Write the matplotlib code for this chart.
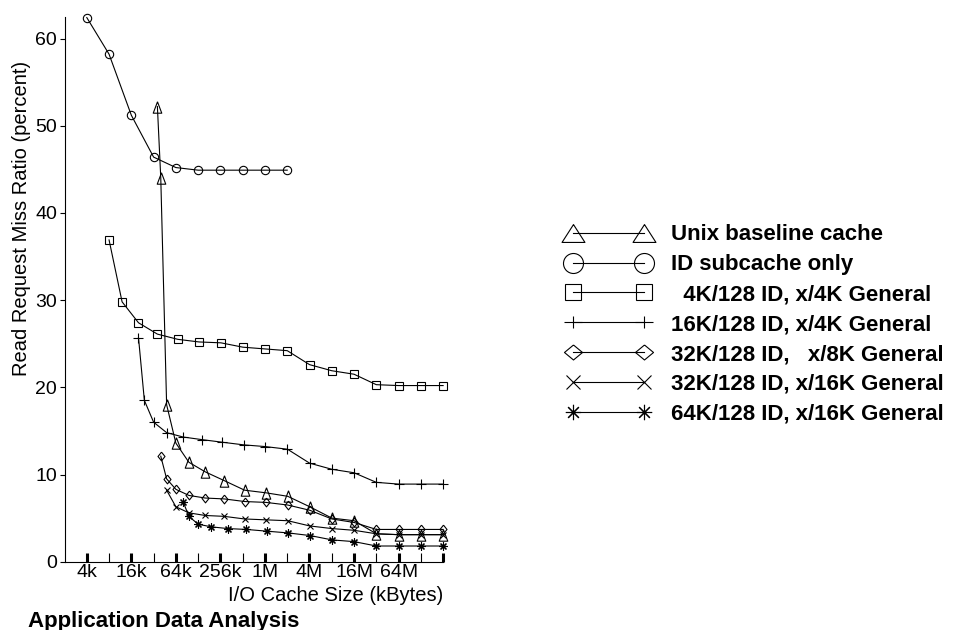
import matplotlib
matplotlib.use('Agg')
import matplotlib.pyplot as plt
from matplotlib.lines import Line2D
from matplotlib.path import Path

plt.rcParams['font.family'] = ['Liberation Sans', 'DejaVu Sans']

# general cache sizes (K), the ID subcache size is added to get the total
general_k = [4, 8, 16, 32, 64, 128, 256, 512, 1024, 2048, 4096, 8192,
             16384, 32768, 65536, 131072, 262144]
id_only_k = [4, 8, 16, 32, 64, 128, 256, 512, 1024, 2048]

unix_x = [32 + g for g in general_k]
unix_y = [52.2, 44.0, 18.0, 13.6, 11.4, 10.3, 9.3, 8.2, 7.9, 7.5,
          6.3, 5.0, 4.7, 3.2, 3.1, 3.1, 3.1]

id_only_y = [62.4, 58.2, 51.2, 46.4, 45.2, 44.9, 44.9, 44.9, 44.9, 44.9]

id4_x = [4 + g for g in general_k]
id4_y = [36.9, 29.8, 27.4, 26.1, 25.5, 25.2, 25.1, 24.6, 24.4, 24.2,
         22.6, 21.9, 21.5, 20.3, 20.2, 20.2, 20.2]

id16_x = [16 + g for g in general_k]
id16_y = [25.7, 18.5, 16.0, 14.8, 14.3, 14.0, 13.7, 13.4, 13.2, 12.9,
          11.3, 10.6, 10.2, 9.1, 8.9, 8.9, 8.9]

id32_8_x = [32 + g for g in general_k[1:]]
id32_8_y = [12.1, 9.5, 8.3, 7.6, 7.3, 7.2, 6.9, 6.8, 6.5, 5.9,
            4.9, 4.5, 3.7, 3.7, 3.7, 3.7]

id32_16_x = [32 + g for g in general_k[2:]]
id32_16_y = [8.2, 6.3, 5.6, 5.3, 5.2, 4.9, 4.8, 4.7, 4.1, 3.8,
             3.6, 3.2, 3.1, 3.1, 3.1]

id64_16_x = [64 + g for g in general_k[2:]]
id64_16_y = [6.9, 5.2, 4.3, 4.0, 3.8, 3.7, 3.5, 3.3, 3.0, 2.5,
             2.3, 1.8, 1.8, 1.8, 1.8]

tick_pos = [4, 16, 64, 256, 1024, 4096, 16384, 65536, 262144]
tick_labels = ['4k', '16k', '64k', '256k', '1M', '4M', '16M', '64M', '']
minor_pos = [8, 32, 128, 512, 2048, 8192, 32768, 131072]

labels = ['Unix baseline cache',
          'ID subcache only',
          '  4K/128 ID, x/4K General',
          '16K/128 ID, x/4K General',
          '32K/128 ID,   x/8K General',
          '32K/128 ID, x/16K General',
          '64K/128 ID, x/16K General']

# marker shapes
tall_tri = [(0, 1), (-0.75, -1), (0.75, -1), (0, 1)]
wide_tri = [(0, 0.78), (-1, -0.78), (1, -0.78), (0, 0.78)]
tall_dia = [(0, 1), (0.8, 0), (0, -1), (-0.8, 0), (0, 1)]
wide_dia = [(0, 0.83), (1, 0), (0, -0.83), (-1, 0), (0, 0.83)]
flat_plus = Path([(-1, 0), (1, 0), (0, -0.67), (0, 0.67)],
                 [Path.MOVETO, Path.LINETO, Path.MOVETO, Path.LINETO])
aster = (8, 2, 0)

fig = plt.figure(figsize=(9.75, 6.3), dpi=100)
ax = fig.add_axes([65 / 975, 1 - 561.7 / 630, 378.2 / 975, 545 / 630])

kw = dict(color='k', lw=0.8, mfc='none', mew=0.8, clip_on=False)
ax.plot(unix_x, unix_y, marker=tall_tri, ms=8.2, **kw)
ax.plot(id_only_k, id_only_y, marker='o', ms=6, **kw)
ax.plot(id4_x, id4_y, marker='s', ms=5.4, **kw)
ax.plot(id16_x, id16_y, marker='+', ms=6.5, **kw)
ax.plot(id32_8_x, id32_8_y, marker=tall_dia, ms=6.3, **kw)
ax.plot(id32_16_x, id32_16_y, marker='x', ms=4.6, **kw)
ax.plot(id64_16_x, id64_16_y, marker=aster, ms=5.8, **kw)

ax.set_xscale('log', base=2)
ax.set_xlim(2.03, 262144 * 1.003)
ax.set_ylim(0, 62.5)
ax.set_xticks(tick_pos)
ax.set_xticklabels(tick_labels)
ax.set_xticks(minor_pos, minor=True)
ax.set_xticklabels([''] * len(minor_pos), minor=True)
ax.set_yticks([0, 10, 20, 30, 40, 50, 60])

ax.spines['top'].set_visible(False)
ax.spines['right'].set_visible(False)
ax.spines['left'].set_linewidth(0.8)
ax.spines['bottom'].set_linewidth(0.8)

ax.tick_params(axis='x', which='major', direction='in', length=6.5, width=2.2,
               labelsize=14, pad=2)
ax.tick_params(axis='x', which='minor', direction='in', length=6.5, width=0.8)
ax.tick_params(axis='y', direction='out', length=3.6, width=0.8,
               labelsize=14, pad=2)

ax.set_xlabel('I/O Cache Size (kBytes)', fontsize=14.5, loc='right', labelpad=3)
ax.set_ylabel('Read Request Miss Ratio (percent)', fontsize=14.5)
ax.yaxis.set_label_coords(-0.09, 0.629)

fig.text(28 / 975, 0.0055, 'Application Data Analysis', fontsize=16,
         fontweight='bold', va='baseline', ha='left')

# legend with its own (bigger) markers
leg_kw = dict(color='k', lw=0.8, mfc='none', mew=0.8)
handles = [Line2D([], [], marker=wide_tri, ms=16.5, **leg_kw),
           Line2D([], [], marker='o', ms=14.4, **leg_kw),
           Line2D([], [], marker='s', ms=12, **leg_kw),
           Line2D([], [], marker=flat_plus, ms=13, **leg_kw),
           Line2D([], [], marker=wide_dia, ms=13, **leg_kw),
           Line2D([], [], marker='x', ms=9.5, **leg_kw),
           Line2D([], [], marker=aster, ms=11, **leg_kw)]
fig.legend(handles, labels, loc='upper left', bbox_to_anchor=(566.6 / 975, 0.6437),
           frameon=False, numpoints=2, handlelength=3.79, handletextpad=0.9,
           labelspacing=0.40, borderpad=0, borderaxespad=0,
           prop={'size': 16, 'weight': 'bold'})

fig.savefig('out.png', dpi=100)
